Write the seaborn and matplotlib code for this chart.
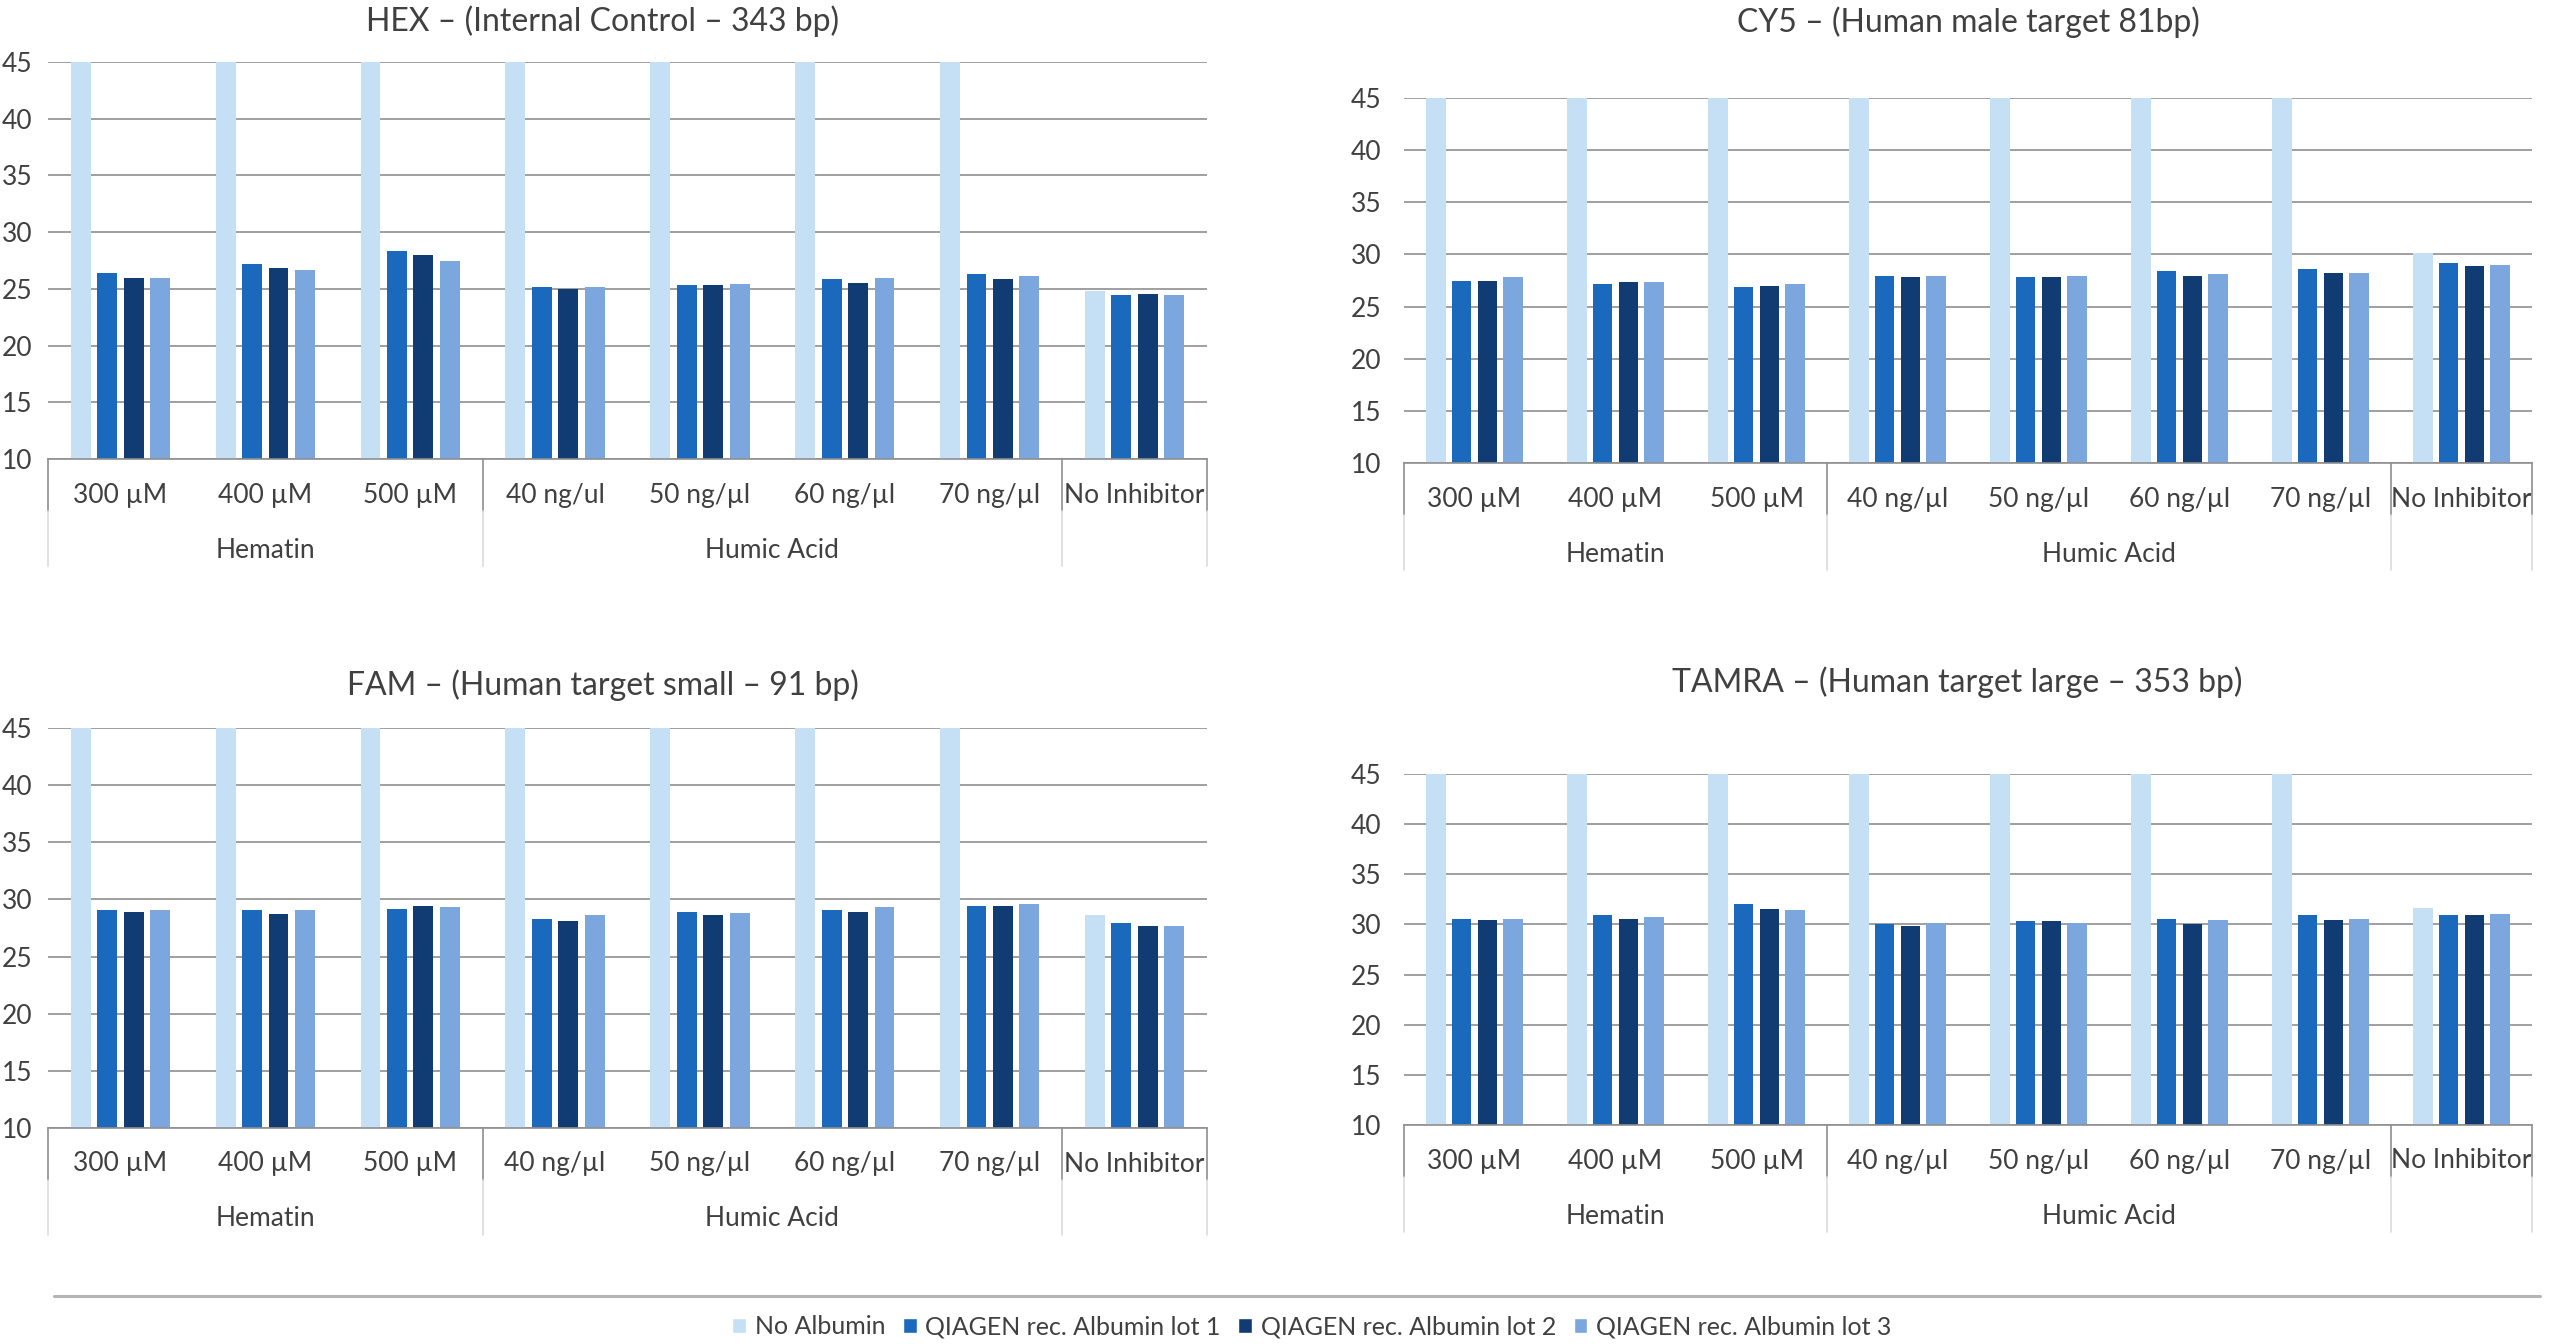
import pandas as pd
import matplotlib
matplotlib.use('Agg')
from matplotlib import pyplot as plt
from matplotlib import transforms
from matplotlib.patches import Patch
from matplotlib.lines import Line2D
import seaborn as sns

# x categories and grouping
categories = ['300 µM', '400 µM', '500 µM', '40 ng/µl', '50 ng/µl', '60 ng/µl', '70 ng/µl', 'No Inhibitor']
hex_labels = ['300 µM', '400 µM', '500 µM', '40 ng/ul', '50 ng/µl', '60 ng/µl', '70 ng/µl', 'No Inhibitor']
groups = ['Hematin', 'Humic Acid', '']
group_sizes = [3, 4, 1]

series = ['No Albumin', 'QIAGEN rec. Albumin lot 1', 'QIAGEN rec. Albumin lot 2', 'QIAGEN rec. Albumin lot 3']
colors = ['#c5e0f5', '#1a69bc', '#113c73', '#7ba7de']

# Ct values (45 = no signal)
hex_no_albumin = [45, 45, 45, 45, 45, 45, 45, 24.8]
hex_lot1 = [26.4, 27.2, 28.3, 25.15, 25.3, 25.85, 26.35, 24.45]
hex_lot2 = [25.95, 26.8, 28.0, 25.0, 25.3, 25.55, 25.85, 24.55]
hex_lot3 = [25.95, 26.65, 27.45, 25.15, 25.4, 25.95, 26.1, 24.45]

cy5_no_albumin = [45, 45, 45, 45, 45, 45, 45, 30.1]
cy5_lot1 = [27.45, 27.15, 26.9, 27.95, 27.8, 28.4, 28.65, 29.15]
cy5_lot2 = [27.45, 27.35, 27.0, 27.8, 27.8, 27.95, 28.2, 28.85]
cy5_lot3 = [27.8, 27.35, 27.15, 27.95, 27.95, 28.1, 28.25, 29.0]

fam_no_albumin = [45, 45, 45, 45, 45, 45, 45, 28.65]
fam_lot1 = [29.05, 29.05, 29.15, 28.3, 28.9, 29.05, 29.45, 27.95]
fam_lot2 = [28.9, 28.75, 29.45, 28.1, 28.65, 28.9, 29.45, 27.65]
fam_lot3 = [29.05, 29.05, 29.3, 28.65, 28.8, 29.3, 29.6, 27.65]

tamra_no_albumin = [45, 45, 45, 45, 45, 45, 45, 31.65]
tamra_lot1 = [30.55, 30.9, 32.0, 30.0, 30.3, 30.55, 30.9, 30.9]
tamra_lot2 = [30.4, 30.55, 31.5, 29.8, 30.3, 30.0, 30.4, 30.9]
tamra_lot3 = [30.55, 30.75, 31.4, 30.1, 30.1, 30.4, 30.55, 31.05]

text_color = '#404040'
grid_color = '#8f8f8f'

sns.set_style('white')
plt.rcParams['font.family'] = ['Lato', 'DejaVu Sans']

W, H = 2560, 1344
fig = plt.figure(figsize=(W / 100, H / 100), dpi=100)


def to_frame(no_alb, lot1, lot2, lot3):
    rows = []
    for s, vals in zip(series, [no_alb, lot1, lot2, lot3]):
        for c, v in zip(categories, vals):
            rows.append((c, s, v))
    return pd.DataFrame(rows, columns=['inhibitor', 'albumin', 'ct'])


def px_axes(left, right, top, bottom):
    return fig.add_axes([left / W, 1 - bottom / H, (right - left) / W, (bottom - top) / H])


def draw_panel(ax, df, labels, title, title_xy, ypad):
    sns.barplot(data=df, x='inhibitor', y='ct', hue='albumin', order=categories,
                hue_order=series, palette=colors, saturation=1, width=0.73, gap=0.25,
                linewidth=0, errorbar=None, legend=False, ax=ax)
    ax.set_ylim(10, 45)
    ax.set_xlim(-0.5, len(categories) - 0.5)
    ax.set_yticks(range(10, 46, 5))
    ax.yaxis.grid(True, color=grid_color, linewidth=1.2)
    ax.set_axisbelow(True)
    for s in ['left', 'right', 'top']:
        ax.spines[s].set_visible(False)
    ax.spines['bottom'].set_color(grid_color)
    ax.spines['bottom'].set_linewidth(1.2)
    ax.tick_params(axis='y', length=0, pad=ypad, labelsize=19, labelcolor=text_color)
    ax.set_xticks([])
    ax.set_xlabel('')
    ax.set_ylabel('')

    xt = ax.get_xaxis_transform()
    row1 = transforms.offset_copy(xt, fig=fig, y=-36, units='dots')
    row2 = transforms.offset_copy(xt, fig=fig, y=-91, units='dots')
    for i, lab in enumerate(labels):
        ax.text(i, 0, lab, transform=row1, ha='center', va='center', fontsize=19, color=text_color)

    h = ax.bbox.height
    start = -0.5
    edges = [start]
    for g, n in zip(groups, group_sizes):
        if g:
            ax.text(start + n / 2, 0, g, transform=row2, ha='center', va='center',
                    fontsize=19, color=text_color)
        start += n
        edges.append(start)
    for x in edges:
        ax.plot([x, x], [0, -52 / h], transform=xt, clip_on=False, color=grid_color, lw=1.2)
        ax.plot([x, x], [-52 / h, -107 / h], transform=xt, clip_on=False, color='#dcdcdc', lw=1.2)

    fig.text(title_xy[0] / W, 1 - title_xy[1] / H, title, ha='center', va='center',
             fontsize=23, color=text_color)


ax = px_axes(48, 1207, 62, 459)
draw_panel(ax, to_frame(hex_no_albumin, hex_lot1, hex_lot2, hex_lot3), hex_labels,
           'HEX – (Internal Control – 343 bp)', (603, 21), 11)

ax = px_axes(1404, 2532, 98, 463)
draw_panel(ax, to_frame(cy5_no_albumin, cy5_lot1, cy5_lot2, cy5_lot3), categories,
           'CY5 – (Human male target 81bp)', (1968, 22), 16)

ax = px_axes(48, 1207, 728, 1128)
draw_panel(ax, to_frame(fam_no_albumin, fam_lot1, fam_lot2, fam_lot3), categories,
           'FAM – (Human target small – 91 bp)', (603, 685), 11)

ax = px_axes(1404, 2532, 774, 1125)
draw_panel(ax, to_frame(tamra_no_albumin, tamra_lot1, tamra_lot2, tamra_lot3), categories,
           'TAMRA – (Human target large – 353 bp)', (1957, 682), 16)

# legend with separator line above it
fig.add_artist(Line2D([54 / W, 2540 / W], [1 - 1296 / H] * 2, color='#b4b4b4', lw=2.2))
handles = [Patch(facecolor=c, label=s) for c, s in zip(colors, series)]
fig.legend(handles=handles, loc='center', bbox_to_anchor=(1312 / W, 1 - 1327 / H), ncol=4,
           frameon=False, fontsize=18, handlelength=0.55, handleheight=0.55,
           handletextpad=0.35, columnspacing=0.7, labelcolor=text_color)

fig.savefig('out.png', dpi=100, facecolor='white')
